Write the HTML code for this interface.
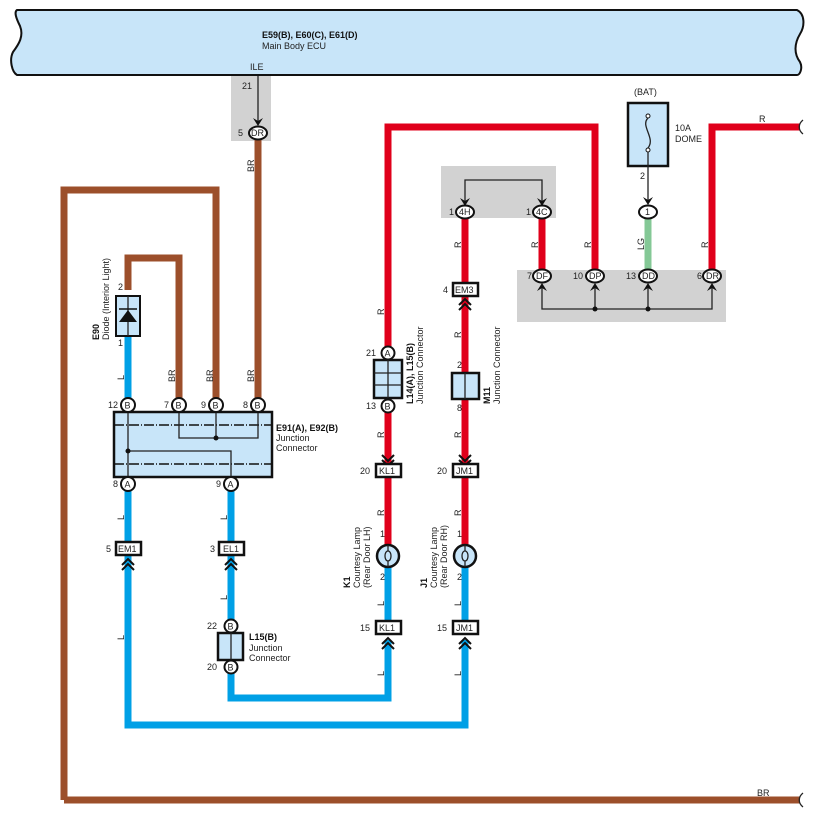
<!DOCTYPE html>
<html><head><meta charset="utf-8"><style>
body{margin:0;background:#fff}
svg{display:block;font-family:"Liberation Sans",sans-serif}
.t{font-size:9px;fill:#222}
.b{font-size:9px;font-weight:bold;fill:#111}
.pin{fill:#fff;stroke:#111;stroke-width:2}
.w{fill:none;stroke-width:7;stroke-linejoin:miter}
.r{stroke:#e0001b}.br{stroke:#9c4f2b}.l{stroke:#00a0e6}.g{stroke:#84c896}
.ln{stroke:#222;stroke-width:1.3;fill:none}
.ch{fill:none;stroke:#111;stroke-width:2}
</style></head><body>
<svg width="816" height="824" viewBox="0 0 816 824" xmlns="http://www.w3.org/2000/svg">
<!-- ECU -->
<path d="M17,10 L797,10 C805,14 805,26 800,34 C794,44 794,54 800,62 C803,68 800,75 797,75 L17,75 C12,72 9,60 13,52 C19,44 24,36 20,26 C16,18 14,12 17,10 Z" fill="#c8e5f9" stroke="#111" stroke-width="2"/>
<text class="b" x="262" y="38">E59(B), E60(C), E61(D)</text>
<text class="t" x="262" y="49">Main Body ECU</text>
<text class="t" x="250" y="70">ILE</text>
<!-- gray boxes -->
<rect x="231" y="76" width="40" height="65" fill="#d2d2d2"/>
<rect x="441" y="166" width="115" height="52" fill="#d2d2d2"/>
<rect x="517" y="270" width="209" height="52" fill="#d2d2d2"/>
<text class="t" x="242" y="89">21</text>
<line class="ln" x1="258" y1="76" x2="258" y2="122"/>
<path d="M253,118 L258,126 L263,118 L258,121Z" fill="#111"/>

<!-- wires -->
<path class="w br" d="M258,140 V398"/>
<path class="w br" d="M64,800 V190 H216 V398"/>
<path class="w br" d="M64,800 H800"/>
<path class="w br" d="M128,290 V258 H179 V398"/>
<path class="w l" d="M128,335 V398"/>
<path class="w l" d="M128,491 V725 H465 V640"/>
<path class="w l" d="M231,491 V698 H388 V640"/>
<path class="w l" d="M388,566 V620"/>
<path class="w l" d="M465,566 V620"/>
<path class="w r" d="M388,347 V127 H595 V270"/>
<path class="w r" d="M388,360 V545"/>
<path class="w r" d="M465,218 V545"/>
<path class="w r" d="M542,218 V270"/>
<path class="w g" d="M648,218 V270"/>
<path class="w r" d="M712,270 V127 H800"/>
<!-- wire breaks -->
<path d="M803,120 C798,124 798,130 803,134" class="ln" stroke-width="1.8"/>
<path d="M803,793 C798,797 798,803 803,807" class="ln" stroke-width="1.8"/>
<text class="t" x="759" y="122">R</text>
<text class="t" x="757" y="796">BR</text>

<!-- DR top -->
<ellipse class="pin" cx="258" cy="133" rx="9" ry="6.5"/><text class="t" x="251" y="136">DR</text>
<text class="t" x="238" y="136">5</text>
<text class="t" transform="translate(254,172) rotate(-90)">BR</text>

<!-- diode -->
<rect x="116" y="296" width="24" height="40" fill="#c8e5f9" stroke="#111" stroke-width="2"/>
<line class="ln" x1="128" y1="296" x2="128" y2="336"/>
<path d="M119,322 L128,310 L137,322Z" fill="#111"/><line x1="119" y1="309" x2="137" y2="309" stroke="#111" stroke-width="1.5"/>
<text class="t" x="118" y="290">2</text><text class="t" x="118" y="346">1</text>
<text class="b" transform="translate(99,340) rotate(-90)">E90</text>
<text class="t" transform="translate(109,340) rotate(-90)">Diode (Interior Light)</text>
<text class="t" transform="translate(124,412) rotate(-90)" style="display:none">L</text>
<text class="t" transform="translate(124,380) rotate(-90)">L</text>
<text class="t" transform="translate(175,382) rotate(-90)">BR</text>
<text class="t" transform="translate(213,382) rotate(-90)">BR</text>
<text class="t" transform="translate(254,382) rotate(-90)">BR</text>

<!-- junction connector -->
<rect x="114" y="412" width="158" height="65" fill="#c8e5f9" stroke="#111" stroke-width="2.5"/>
<line x1="114" y1="425" x2="272" y2="425" stroke="#111" stroke-width="1.5" stroke-dasharray="10,2,1,2"/>
<line x1="114" y1="464" x2="272" y2="464" stroke="#111" stroke-width="1.5" stroke-dasharray="10,2,1,2"/>
<path class="ln" d="M128,405 V484 M179,405 V438 H258 V405 M216,405 V438 M128,451 H231 V484"/>
<circle cx="216" cy="438" r="2.5" fill="#111"/><circle cx="128" cy="451" r="2.5" fill="#111"/>
<g>
<circle class="pin" cx="128" cy="405" r="7"/><text class="t" x="124.5" y="408.5">B</text><text class="t" x="108" y="408">12</text>
<circle class="pin" cx="179" cy="405" r="7"/><text class="t" x="175.5" y="408.5">B</text><text class="t" x="164" y="408">7</text>
<circle class="pin" cx="216" cy="405" r="7"/><text class="t" x="212.5" y="408.5">B</text><text class="t" x="201" y="408">9</text>
<circle class="pin" cx="258" cy="405" r="7"/><text class="t" x="254.5" y="408.5">B</text><text class="t" x="243" y="408">8</text>
<circle class="pin" cx="128" cy="484" r="7"/><text class="t" x="124.5" y="487.5">A</text><text class="t" x="113" y="487">8</text>
<circle class="pin" cx="231" cy="484" r="7"/><text class="t" x="227.5" y="487.5">A</text><text class="t" x="216" y="487">9</text>
</g>
<text class="b" x="276" y="431">E91(A), E92(B)</text>
<text class="t" x="276" y="441">Junction</text>
<text class="t" x="276" y="451">Connector</text>

<text class="t" transform="translate(124,520) rotate(-90)">L</text>
<text class="t" transform="translate(227,520) rotate(-90)">L</text>
<text class="t" transform="translate(227,600) rotate(-90)">L</text>
<text class="t" transform="translate(124,640) rotate(-90)">L</text>
<!-- EM1 / EL1 -->
<rect x="116" y="542" width="25" height="13" fill="#fff" stroke="#111" stroke-width="2.5"/><text class="t" x="118" y="552">EM1</text><text class="t" x="106" y="552">5</text>
<path class="ch" d="M122,565 L128,559 L134,565 M122,570 L128,564 L134,570"/>
<rect x="219" y="542" width="25" height="13" fill="#fff" stroke="#111" stroke-width="2.5"/><text class="t" x="223" y="552">EL1</text><text class="t" x="210" y="552">3</text>
<path class="ch" d="M225,565 L231,559 L237,565 M225,570 L231,564 L237,570"/>
<!-- L15 -->
<circle class="pin" cx="231" cy="626" r="6.5"/><text class="t" x="227.5" y="629.5">B</text><text class="t" x="207" y="629">22</text>
<rect x="218" y="633" width="25" height="27" fill="#c8e5f9" stroke="#111" stroke-width="2.5"/><line class="ln" x1="231" y1="633" x2="231" y2="660"/>
<circle class="pin" cx="231" cy="667" r="6.5"/><text class="t" x="227.5" y="670.5">B</text><text class="t" x="207" y="670">20</text>
<text class="b" x="249" y="640">L15(B)</text><text class="t" x="249" y="651">Junction</text><text class="t" x="249" y="661">Connector</text>

<!-- L14/L15 -->
<text class="t" transform="translate(384,315) rotate(-90)">R</text>
<circle class="pin" cx="388" cy="353" r="6.5"/><text class="t" x="384.5" y="356.5">A</text><text class="t" x="366" y="356">21</text>
<rect x="374" y="360" width="28" height="38" fill="#c8e5f9" stroke="#111" stroke-width="2.5"/>
<path class="ln" d="M388,360 V398 M374,373 H402 M374,385 H402" stroke-width="1.5"/>
<circle class="pin" cx="388" cy="406" r="6.5"/><text class="t" x="384.5" y="409.5">B</text><text class="t" x="366" y="409">13</text>
<text class="b" transform="translate(413,404) rotate(-90)">L14(A), L15(B)</text>
<text class="t" transform="translate(423,404) rotate(-90)">Junction Connector</text>
<text class="t" transform="translate(384,438) rotate(-90)">R</text>
<path class="ch" d="M382,455 L388,461 L394,455 M382,460 L388,466 L394,460"/>
<rect x="376" y="464" width="25" height="13" fill="#fff" stroke="#111" stroke-width="2.5"/><text class="t" x="379" y="474">KL1</text><text class="t" x="360" y="474">20</text>
<text class="t" transform="translate(384,516) rotate(-90)">R</text>
<text class="t" x="380" y="537">1</text>
<circle cx="388" cy="556" r="11" fill="#c8e5f9" stroke="#111" stroke-width="2.5"/>
<path class="ln" d="M388,545 V551 M388,561 V567 M388,551 C384,551 384,561 388,561 M388,551 C392,551 392,561 388,561"/>
<text class="t" x="380" y="580">2</text>
<text class="b" transform="translate(350,588) rotate(-90)">K1</text>
<text class="t" transform="translate(360,588) rotate(-90)">Courtesy Lamp</text>
<text class="t" transform="translate(370,588) rotate(-90)">(Rear Door LH)</text>
<text class="t" transform="translate(384,606) rotate(-90)">L</text>
<rect x="376" y="621" width="25" height="13" fill="#fff" stroke="#111" stroke-width="2.5"/><text class="t" x="379" y="631">KL1</text><text class="t" x="360" y="631">15</text>
<path class="ch" d="M382,644 L388,638 L394,644 M382,649 L388,643 L394,649"/>
<text class="t" transform="translate(384,676) rotate(-90)">L</text>

<!-- 4H/4C -->
<path class="ln" d="M465,202 V180 H542 V202"/>
<path d="M460,198 L465,206 L470,198 L465,201Z" fill="#111"/>
<path d="M537,198 L542,206 L547,198 L542,201Z" fill="#111"/>
<ellipse class="pin" cx="465" cy="212" rx="9" ry="6.5"/><text class="t" x="459" y="215">4H</text><text class="t" x="449" y="215">1</text>
<ellipse class="pin" cx="542" cy="212" rx="9" ry="6.5"/><text class="t" x="536" y="215">4C</text><text class="t" x="526" y="215">1</text>
<text class="t" transform="translate(461,248) rotate(-90)">R</text>
<text class="t" transform="translate(538,248) rotate(-90)">R</text>
<text class="t" transform="translate(591,248) rotate(-90)">R</text>
<text class="t" transform="translate(644,250) rotate(-90)">LG</text>
<text class="t" transform="translate(708,248) rotate(-90)">R</text>
<rect x="453" y="283" width="25" height="13" fill="#fff" stroke="#111" stroke-width="2.5"/><text class="t" x="455" y="293">EM3</text><text class="t" x="443" y="293">4</text>
<path class="ch" d="M459,305 L465,299 L471,305 M459,310 L465,304 L471,310"/>
<text class="t" transform="translate(461,338) rotate(-90)">R</text>
<text class="t" x="457" y="368">2</text>
<rect x="452" y="373" width="27" height="26" fill="#c8e5f9" stroke="#111" stroke-width="2.5"/><line class="ln" x1="465" y1="373" x2="465" y2="399"/>
<text class="t" x="457" y="411">8</text>
<text class="b" transform="translate(490,404) rotate(-90)">M11</text>
<text class="t" transform="translate(500,404) rotate(-90)">Junction Connector</text>
<text class="t" transform="translate(461,438) rotate(-90)">R</text>
<path class="ch" d="M459,455 L465,461 L471,455 M459,460 L465,466 L471,460"/>
<rect x="453" y="464" width="25" height="13" fill="#fff" stroke="#111" stroke-width="2.5"/><text class="t" x="456" y="474">JM1</text><text class="t" x="437" y="474">20</text>
<text class="t" transform="translate(461,516) rotate(-90)">R</text>
<text class="t" x="457" y="537">1</text>
<circle cx="465" cy="556" r="11" fill="#c8e5f9" stroke="#111" stroke-width="2.5"/>
<path class="ln" d="M465,545 V551 M465,561 V567 M465,551 C461,551 461,561 465,561 M465,551 C469,551 469,561 465,561"/>
<text class="t" x="457" y="580">2</text>
<text class="b" transform="translate(427,588) rotate(-90)">J1</text>
<text class="t" transform="translate(437,588) rotate(-90)">Courtesy Lamp</text>
<text class="t" transform="translate(447,588) rotate(-90)">(Rear Door RH)</text>
<text class="t" transform="translate(461,606) rotate(-90)">L</text>
<rect x="453" y="621" width="25" height="13" fill="#fff" stroke="#111" stroke-width="2.5"/><text class="t" x="456" y="631">JM1</text><text class="t" x="437" y="631">15</text>
<path class="ch" d="M459,644 L465,638 L471,644 M459,649 L465,643 L471,649"/>
<text class="t" transform="translate(461,676) rotate(-90)">L</text>

<!-- fuse -->
<text class="t" x="634" y="95">(BAT)</text>
<rect x="628" y="103" width="40" height="63" fill="#c8e5f9" stroke="#111" stroke-width="2.5"/>
<circle cx="648" cy="116" r="2" fill="#fff" stroke="#111"/><circle cx="648" cy="150" r="2" fill="#fff" stroke="#111"/>
<path class="ln" d="M648,118 C640,126 656,138 648,148"/>
<line class="ln" x1="648" y1="152" x2="648" y2="200"/>
<path d="M643,197 L648,205 L653,197 L648,200Z" fill="#111"/>
<text class="t" x="640" y="179">2</text>
<text class="t" x="675" y="131">10A</text><text class="t" x="675" y="142">DOME</text>
<ellipse class="pin" cx="648" cy="212" rx="9" ry="6.5"/><text class="t" x="645" y="215">1</text>

<!-- lower gray connectors -->
<path class="ln" d="M542,286 V309 H712 V286 M595,286 V309 M648,286 V309"/>
<circle cx="595" cy="309" r="2.5" fill="#111"/><circle cx="648" cy="309" r="2.5" fill="#111"/>
<g fill="#111">
<path d="M537,291 L542,283 L547,291 L542,288Z"/><path d="M590,291 L595,283 L600,291 L595,288Z"/>
<path d="M643,291 L648,283 L653,291 L648,288Z"/><path d="M707,291 L712,283 L717,291 L712,288Z"/>
</g>
<ellipse class="pin" cx="542" cy="276" rx="9" ry="6.5"/><text class="t" x="536" y="279">DF</text><text class="t" x="527" y="279">7</text>
<ellipse class="pin" cx="595" cy="276" rx="9" ry="6.5"/><text class="t" x="589" y="279">DP</text><text class="t" x="573" y="279">10</text>
<ellipse class="pin" cx="648" cy="276" rx="9" ry="6.5"/><text class="t" x="642" y="279">DD</text><text class="t" x="626" y="279">13</text>
<ellipse class="pin" cx="712" cy="276" rx="9" ry="6.5"/><text class="t" x="706" y="279">DR</text><text class="t" x="697" y="279">6</text>
</svg>
</body></html>
